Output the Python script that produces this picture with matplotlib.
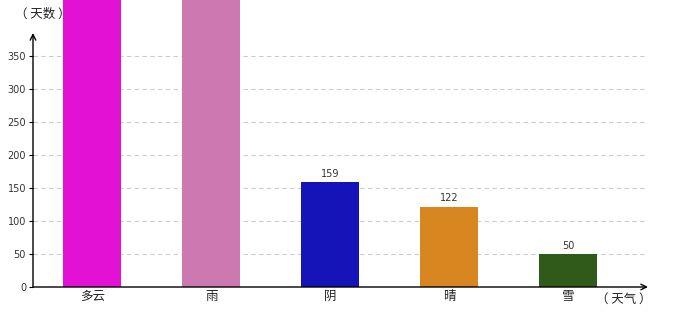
import matplotlib.pyplot as plt

plt.rcParams['font.family'] = ['Noto Sans CJK SC', 'DejaVu Sans']

# 数据
weather = ['多云', '雨', '阴', '晴', '雪']
days = [520, 480, 159, 122, 50]
colors = ['#e211d3', '#cd78b1', '#1414b9', '#d8861f', '#2f5a19']
yticks = [0, 50, 100, 150, 200, 250, 300, 350]

fig = plt.figure(figsize=(6.8, 3.2), dpi=100)
ax = fig.add_axes([33 / 680, 33 / 320, 615 / 680, 254 / 320])

x = range(len(weather))
bars = ax.bar(x, days, width=58 / 119, color=colors, clip_on=False, zorder=3)

# 数值标签
for xi, v in zip(x, days):
    if v < 385:
        ax.text(xi, v + 5, str(v), ha='center', va='bottom', fontsize=7,
                family='DejaVu Sans', color='#333333')

ax.set_xlim(-0.5, 4.67)
ax.set_ylim(0, 385)
ax.set_yticks(yticks)
ax.set_yticklabels([str(t) for t in yticks], fontsize=7, family='DejaVu Sans', color='#333333')
ax.set_xticks(list(x))
ax.set_xticklabels(weather, fontsize=9, color='#222222')
ax.tick_params(axis='y', length=3, pad=2)
ax.tick_params(axis='x', length=0, pad=2)

for t in yticks[1:]:
    ax.axhline(t, xmin=0, xmax=612 / 615, color='#cccccc', lw=0.8, ls=(0, (4, 3)), zorder=1)

for s in ['top', 'right', 'left', 'bottom']:
    ax.spines[s].set_visible(False)

# 坐标轴箭头
ax.annotate('', xy=(0, 1.0), xytext=(0, 0), xycoords='axes fraction',
            arrowprops=dict(arrowstyle='->', color='black', lw=1, shrinkA=0, shrinkB=0), zorder=5)
ax.annotate('', xy=(1.0, 0), xytext=(0, 0), xycoords='axes fraction',
            arrowprops=dict(arrowstyle='->', color='black', lw=1, shrinkA=0, shrinkB=0), zorder=5)

fig.text(15 / 680, 1 - 14 / 320, '（ 天数 ）', fontsize=9, ha='left', va='center', color='#222222')
fig.text(596 / 680, 1 - 299 / 320, '（ 天气 ）', fontsize=9, ha='left', va='center', color='#222222')

fig.savefig('out.png', dpi=100, facecolor='white')
